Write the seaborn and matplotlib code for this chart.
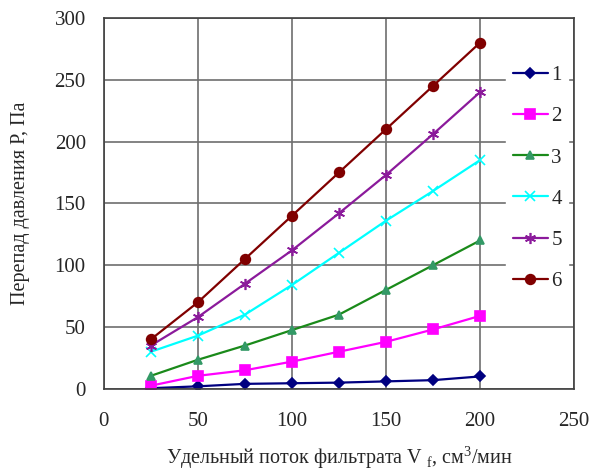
import numpy as np
import pandas as pd
import matplotlib
matplotlib.use("Agg")
import matplotlib.pyplot as plt
import seaborn as sns

# flow rate values (x) and pressure drop for each curve
flow = [25, 50, 75, 100, 125, 150, 175, 200]
p1 = [0.5, 2, 4, 4.5, 5, 6, 7, 10]
p2 = [2.5, 10.5, 15, 22, 30, 38, 48, 59]
p3 = [10.5, 23.5, 35, 47.5, 60, 80, 100, 120]
p4 = [30, 43, 60, 84, 110, 136, 160, 185]
p5 = [35, 58, 85, 112, 142, 173, 206, 240]
p6 = [40, 70, 105, 140, 175, 210, 245, 280]
labels = ["1", "2", "3", "4", "5", "6"]

series = [p1, p2, p3, p4, p5, p6]
colors = ["#000080", "#ff00ff", "#1a8a1a", "#00ffff", "#8b1a9b", "#800000"]
mcolors = ["#000080", "#ff00ff", "#339966", "#00ffff", "#8b1a9b", "#800000"]
markers = ["D", "s", "^", "x", (6, 2, 0), "o"]
msizes = [5, 7, 6, 7, 8, 7]

sns.set_style("white")
plt.rcParams["font.family"] = ["Liberation Serif", "DejaVu Serif"]
plt.rcParams["mathtext.fontset"] = "custom"
plt.rcParams["mathtext.rm"] = "Liberation Serif"

fig = plt.figure(figsize=(5.9, 4.73), dpi=100)
ax = fig.add_axes([0.176, 0.178, 0.797, 0.784])

for vals, lab, c, mc, m, ms in zip(series, labels, colors, mcolors, markers, msizes):
    df = pd.DataFrame({"x": flow, "y": vals})
    sns.lineplot(data=df, x="x", y="y", ax=ax, color=c, linewidth=1.6,
                 marker=m, markersize=ms, markerfacecolor=mc,
                 markeredgecolor=mc, markeredgewidth=1.2, label=lab)

ax.set_xlim(0, 250)
ax.set_ylim(0, 300)
ax.set_xticks(np.arange(0, 251, 50))
ax.set_yticks(np.arange(0, 301, 50))
ax.grid(True, color="#6e6e6e", linewidth=1.2)
ax.set_axisbelow(True)
for s in ax.spines.values():
    s.set_color("#404040")
    s.set_linewidth(1.2)
ax.tick_params(axis="both", direction="out", length=5, width=1.2,
               color="#404040", labelsize=15, pad=8)
ax.tick_params(axis="x", pad=12)

ax.set_xlabel(r"Удельный поток фильтрата V $_{\mathregular{f}}$, см$^{\mathregular{3}}$/мин",
              fontsize=14.5, labelpad=9)
ax.set_ylabel("Перепад давления P, Па", fontsize=14.5, labelpad=18)

leg = ax.legend(loc="upper left", bbox_to_anchor=(0.834, 0.917), frameon=True,
                fontsize=15, handlelength=1.7, labelspacing=1.04,
                borderpad=0.3, handletextpad=0.15)
leg.get_frame().set_facecolor("white")
leg.get_frame().set_edgecolor("white")
leg.get_frame().set_alpha(1.0)
leg.set_zorder(2.3)

fig.savefig("out.png", dpi=100)
